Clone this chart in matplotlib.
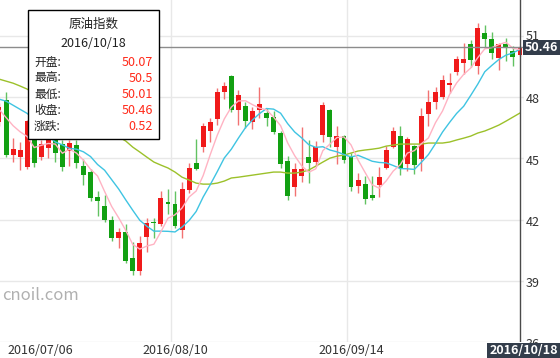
import numpy as np
import matplotlib.pyplot as plt
from matplotlib.patches import Rectangle

plt.rcParams['font.family'] = ['Noto Sans CJK SC', 'DejaVu Sans']

# ---- data (daily candles 2016/07/06 .. 2016/10/18) ----
opens = [46.8, 47.86, 45.17, 45.07, 44.58, 46.3, 45.07, 45.51, 46.0, 45.7,
         45.36, 45.66, 44.63, 44.33, 43.11, 42.67, 41.98, 41.1, 41.39, 40.12,
         39.5, 41.15, 41.9, 41.8, 42.87, 42.77, 41.5, 43.45, 44.77, 45.56,
         46.34, 46.93, 48.25, 49.04, 47.37, 47.57, 46.78, 47.37, 47.22, 47.03,
         46.25, 44.87, 43.6, 44.14, 45.07, 44.82, 46.15, 47.37, 45.56, 46.1,
         45.07, 43.65, 43.75, 43.21, 43.7, 44.53, 45.56, 46.1, 44.73, 45.61,
         44.97, 47.18, 47.77, 48.0, 48.6, 49.24, 49.68, 50.6, 49.53, 51.15,
         50.85, 49.92, 50.6, 50.26, 50.07]
highs = [47.7, 48.25, 46.0, 45.8, 46.88, 46.5, 45.9, 46.2, 46.2, 45.9,
         45.9, 45.9, 44.97, 44.5, 43.4, 43.2, 42.2, 41.6, 41.8, 40.9,
         41.2, 42.1, 42.1, 43.4, 43.5, 43.4, 43.85, 44.77, 45.95, 46.74,
         46.98, 48.45, 48.75, 49.09, 48.35, 47.77, 47.5, 48.5, 47.47, 47.3,
         46.34, 45.1, 44.77, 46.54, 45.9, 45.85, 47.77, 47.42, 46.6, 46.15,
         45.27, 44.3, 44.14, 44.14, 44.58, 45.6, 46.54, 46.59, 46.05, 45.65,
         47.47, 48.35, 48.5, 49.1, 49.2, 50.0, 50.66, 50.8, 51.64, 51.54,
         51.2, 50.66, 50.9, 50.5, 50.5]
lows = [46.6, 45.07, 44.82, 44.43, 44.48, 44.58, 44.92, 45.02, 44.82, 44.4,
        44.63, 44.53, 43.7, 42.9, 42.2, 41.9, 40.95, 40.6, 39.87, 39.3,
        39.3, 40.4, 41.1, 41.7, 42.3, 41.6, 41.1, 43.3, 44.43, 45.31,
        45.8, 46.64, 47.9, 47.27, 46.64, 46.49, 46.44, 46.98, 46.59, 46.2,
        44.53, 42.96, 43.15, 43.85, 43.8, 44.63, 45.8, 45.56, 44.73, 44.78,
        43.4, 43.3, 42.76, 42.96, 43.11, 44.48, 45.51, 44.19, 44.4, 44.24,
        44.38, 46.59, 47.4, 47.9, 48.2, 49.1, 49.14, 49.48, 49.14, 50.41,
        49.85, 49.33, 49.75, 49.5, 50.01]
closes = [47.5, 45.17, 45.46, 45.41, 46.83, 44.77, 45.71, 45.95, 45.26, 44.58,
          45.75, 44.77, 44.19, 43.06, 42.91, 41.98, 41.1, 41.39, 40.0, 39.48,
          40.85, 41.83, 41.83, 43.06, 42.77, 41.7, 43.5, 44.53, 44.48, 46.59,
          46.78, 48.25, 48.55, 47.37, 48.1, 46.83, 47.32, 47.67, 46.98, 46.29,
          44.73, 43.15, 44.48, 44.48, 44.77, 45.56, 47.62, 46.05, 46.1, 44.92,
          43.6, 43.94, 43.01, 43.06, 44.09, 45.41, 46.34, 44.53, 45.95, 44.68,
          47.08, 47.77, 48.25, 48.84, 48.7, 49.87, 49.87, 49.82, 51.39, 50.85,
          50.17, 50.6, 50.41, 49.94, 50.46]

ma5 = [47.4, 47.0, 46.6, 46.3, 46.07, 45.53, 45.64, 45.73, 45.70, 45.25,
       45.45, 45.26, 44.91, 44.47, 44.14, 43.38, 42.65, 42.09, 41.48, 40.79,
       40.56, 40.71, 40.80, 41.41, 42.07, 42.24, 42.57, 43.11, 43.40, 44.16,
       45.18, 46.13, 46.93, 47.51, 47.81, 47.82, 47.63, 47.46, 47.38, 47.02,
       46.60, 45.76, 45.13, 44.63, 44.32, 44.49, 45.38, 45.70, 46.02, 46.05,
       45.66, 44.92, 44.31, 43.71, 43.54, 43.90, 44.38, 44.69, 45.26, 45.38,
       45.72, 46.00, 46.75, 47.32, 48.13, 48.69, 49.11, 49.42, 49.93, 50.36,
       50.42, 50.57, 50.68, 50.39, 50.32]
ma10 = [47.9, 47.8, 47.6, 47.4, 47.2, 46.9, 46.5, 46.1, 45.8, 45.66,
        45.49, 45.45, 45.32, 45.09, 44.70, 44.42, 43.96, 43.50, 42.97, 42.46,
        41.97, 41.68, 41.44, 41.44, 41.43, 41.40, 41.64, 41.96, 42.40, 43.11,
        43.71, 44.35, 45.02, 45.45, 45.99, 46.50, 46.88, 47.19, 47.44, 47.41,
        47.21, 46.70, 46.29, 46.00, 45.67, 45.54, 45.57, 45.41, 45.32, 45.19,
        45.07, 45.15, 45.01, 44.86, 44.80, 44.78, 44.65, 44.50, 44.49, 44.46,
        44.81, 45.19, 45.72, 46.29, 46.76, 47.20, 47.55, 48.08, 48.63, 49.24,
        49.55, 49.84, 50.05, 50.16, 50.34]
ma30 = [48.88, 48.78, 48.68, 48.54, 48.39, 48.17, 47.99, 47.81, 47.64, 47.46,
        47.28, 47.11, 46.93, 46.75, 46.57, 46.40, 46.22, 46.05, 45.85, 45.55,
        45.31, 45.06, 44.82, 44.67, 44.53, 44.33, 44.08, 43.94, 43.79, 43.74,
        43.74, 43.79, 43.89, 44.04, 44.08, 44.13, 44.18, 44.23, 44.28, 44.33,
        44.33, 44.28, 44.28, 44.33, 44.43, 44.62, 44.82, 45.01, 45.11, 45.16,
        45.26, 45.36, 45.41, 45.45, 45.50, 45.60, 45.65, 45.70, 45.70, 45.70,
        45.70, 45.75, 45.75, 45.75, 45.80, 45.90, 45.99, 46.09, 46.24, 46.34,
        46.48, 46.63, 46.82, 47.02, 47.22]

date_idx = [0, 25, 50]
date_labels = ["2016/07/06", "2016/08/10", "2016/09/14"]
last_date = "2016/10/18"
y_ticks = [36, 39, 42, 45, 48, 51]

RED, GREEN = "#f01a1a", "#12a012"
RED_W, GREEN_W = "#f27272", "#62c262"
PINK, CYAN, OLIVE = "#ffb3c3", "#3fc4e2", "#9cc12a"
GRID = "#e8e8e8"
TXT = "#333333"
DARK = "#333d4b"

W, H = 560, 358
fig = plt.figure(figsize=(W / 100, H / 100), dpi=100)
fig.patch.set_facecolor("white")


def fx(px):
    return px / W


def fy(py):
    return 1 - py / H


ax = fig.add_axes([0, fy(342.3), fx(524), 342.3 / H])
ax.set_xlim(0.142, 74.57)
ax.set_ylim(36, 52.75)
ax.axis("off")

for t in y_ticks:
    ax.axhline(t, color=GRID, lw=1, zorder=0)
for i in date_idx + [75]:
    ax.axvline(i - 0.5, color=GRID, lw=1, zorder=0)

x = np.arange(len(closes))
o = np.array(opens)
c = np.array(closes)
up = c >= o
ax.vlines(x, lows, highs, colors=np.where(up, RED_W, GREEN_W), lw=1, zorder=2)
ax.bar(x, np.maximum(np.abs(c - o), 0.06), bottom=np.minimum(o, c), width=0.7,
       color=np.where(up, RED, GREEN), linewidth=0, zorder=3)

ax.plot(x, ma30, color=OLIVE, lw=1, zorder=4)
ax.plot(x, ma10, color=CYAN, lw=1, zorder=4)
ax.plot(x, ma5, color=PINK, lw=1, zorder=4)

# crosshair on last candle
ax.axhline(closes[-1], color="#8c8c8c", lw=1, zorder=5)
ax.axvline(x[-1], color="#4a4a4a", lw=1, zorder=5)

# y labels on the right
for t in y_ticks:
    off = 0.04 if t == 51 else 0.13
    ax.text(1.004, t - off, str(t), transform=ax.get_yaxis_transform(),
            ha="left", va="center", fontsize=9, color=TXT, clip_on=False)

# x labels
for i, lab in zip(date_idx, date_labels):
    if i == 0:
        fig.text(fx(7), fy(350), lab, ha="left", va="center", fontsize=9, color=TXT)
    else:
        xp = ax.transData.transform((i, 40))[0]
        fig.text(xp / W, fy(350), lab, ha="center", va="center", fontsize=9, color=TXT)

# last-value tags
fig.add_artist(Rectangle((fx(523), fy(54.5)), fx(37), 14 / H, transform=fig.transFigure,
                         facecolor=DARK, edgecolor="none", zorder=10))
fig.text(fx(541.5), fy(47.5), f"{closes[-1]:.2f}", ha="center", va="center",
         fontsize=9, fontweight="bold", color="white", zorder=11)
fig.add_artist(Rectangle((fx(487), fy(357.5)), fx(73), 15 / H, transform=fig.transFigure,
                         facecolor=DARK, edgecolor="none", zorder=10))
fig.text(fx(523.5), fy(350), last_date, ha="center", va="center",
         fontsize=9, fontweight="bold", color="white", zorder=11)

# watermark
fig.text(fx(2), fy(296), "cnoil.com", ha="left", va="center", fontsize=12,
         color="#b0b0b0")

# tooltip box
fig.add_artist(Rectangle((fx(28), fy(139)), fx(131), 129 / H, transform=fig.transFigure,
                         facecolor="white", edgecolor="black", lw=1, zorder=10))
fig.text(fx(93.5), fy(24), "原油指数", ha="center", va="center", fontsize=9,
         color="#222222", zorder=11)
fig.text(fx(93.5), fy(43.5), last_date, ha="center", va="center", fontsize=9,
         color="#222222", zorder=11)
change = closes[-1] - closes[-2]
rows = [("开盘:", opens[-1]), ("最高:", highs[-1]), ("最低:", lows[-1]),
        ("收盘:", closes[-1]), ("涨跌:", round(change, 2))]
for k, (name, val) in enumerate(rows):
    yy = 62 + k * 16
    fig.text(fx(34), fy(yy), name, ha="left", va="center", fontsize=8.5,
             color="#222222", zorder=11)
    fig.text(fx(153), fy(yy), f"{val:g}", ha="right", va="center", fontsize=9,
             color="#ff2a1a", zorder=11)

fig.savefig("out.png", dpi=100, facecolor="white")
